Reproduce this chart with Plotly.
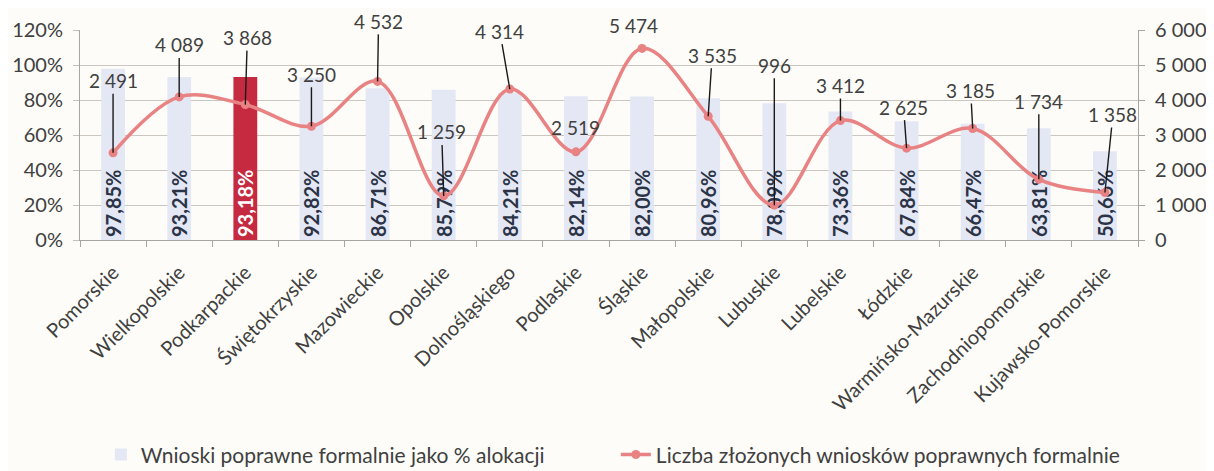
import plotly.graph_objects as go

regions = ["Pomorskie", "Wielkopolskie", "Podkarpackie", "Świętokrzyskie", "Mazowieckie",
           "Opolskie", "Dolnośląskiego", "Podlaskie", "Śląskie", "Małopolskie", "Lubuskie",
           "Lubelskie", "Łódzkie", "Warmińsko-Mazurskie", "Zachodniopomorskie", "Kujawsko-Pomorskie"]
pct_allocation = [0.9785, 0.9321, 0.9318, 0.9282, 0.8671, 0.8579, 0.8421, 0.8214,
                  0.8200, 0.8096, 0.7809, 0.7336, 0.6784, 0.6647, 0.6381, 0.5066]
applications = [2491, 4089, 3868, 3250, 4532, 1259, 4314, 2519,
                5474, 3535, 996, 3412, 2625, 3185, 1734, 1358]
highlight = "Podkarpackie"

# label placement (pixel offsets of label relative to its point)
label_dx = [0, 0, 2, 0, 1, -2, -10, 0, -9, 4, 0, 0, -3, -2, 0, 8]
label_dy = [-72, -52, -67, -52, -60, -64, -58, -24, -23, -61, -140, -35, -41, -38, -78, -78]
leader = [True, True, True, True, True, True, True, False, False, True, True, True, True, True, True, True]

FONT = "Lato"
BAR = "#e4e7f4"
RED = "#c62a40"
LINE = "#e98283"
TXT = "#404040"

bar_colors = [RED if r == highlight else BAR for r in regions]
bar_text_colors = ["#ffffff" if r == highlight else "#2b3346" for r in regions]

fig = go.Figure()
fig.add_trace(go.Bar(
    x=regions, y=pct_allocation, name="Wnioski poprawne formalnie jako % alokacji",
    marker=dict(color=bar_colors, line=dict(width=0)),
    width=0.36,
    texttemplate="%{y:.2%}", textposition="inside", insidetextanchor="start",
    textangle=-90, constraintext="none",
    textfont=dict(family=FONT, size=20, color=bar_text_colors, weight="bold"),
    hoverinfo="skip",
))
fig.add_trace(go.Scatter(
    x=regions, y=applications, yaxis="y2", mode="lines+markers",
    name="Liczba złożonych wniosków poprawnych formalnie",
    line=dict(color=LINE, width=3.5, shape="spline", smoothing=1.0),
    marker=dict(color=LINE, size=9),
    hoverinfo="skip",
))

for i, (r, v) in enumerate(zip(regions, applications)):
    txt = f"{v:,}".replace(",", " ")
    if leader[i]:
        fig.add_annotation(x=r, y=v, xref="x", yref="y2", text=txt, showarrow=True,
                           arrowhead=0, arrowwidth=1.4, arrowcolor="#1a1a1a",
                           ax=label_dx[i], ay=label_dy[i], standoff=0,
                           font=dict(family=FONT, size=19, color=TXT))
    else:
        fig.add_annotation(x=r, y=v, xref="x", yref="y2", text=txt, showarrow=False,
                           xshift=label_dx[i], yshift=-label_dy[i],
                           font=dict(family=FONT, size=19, color=TXT))

fig.update_layout(
    width=1206, height=463,
    margin=dict(l=72, r=76, t=22, b=231, autoexpand=False),
    paper_bgcolor="#fdfcf8", plot_bgcolor="#fdfcf8",
    separators=", ",
    font=dict(family=FONT, size=19, color=TXT),
    showlegend=True,
    legend=dict(orientation="h", xref="container", yref="container",
                x=0.077, y=0.035, xanchor="left", yanchor="middle",
                font=dict(family=FONT, size=21, color=TXT),
                entrywidth=470, entrywidthmode="pixels", bgcolor="rgba(0,0,0,0)"),
    bargap=0.6,
    xaxis=dict(type="category", range=[-0.5, 15.5], tickangle=-45, automargin=False,
               showline=True, linecolor="#a8a4a0", linewidth=1,
               ticks="outside", tickson="boundaries", ticklen=6, tickcolor="#a8a4a0",
               ticklabelstandoff=12,
               showgrid=False, tickfont=dict(family=FONT, size=20, color=TXT)),
    yaxis=dict(range=[0, 1.2], dtick=0.2, tickformat=".0%", automargin=False,
               showline=True, linecolor="#a8a4a0", linewidth=1,
               ticks="outside", ticklen=6, tickcolor="#c8c2bc", ticklabelstandoff=6,
               showgrid=True, gridcolor="#ccc6c0", gridwidth=1, zeroline=False,
               tickfont=dict(family=FONT, size=20, color=TXT)),
    yaxis2=dict(range=[0, 6000], dtick=1000, tickformat=",d", overlaying="y", side="right",
                automargin=False,
                showline=True, linecolor="#a8a4a0", linewidth=1,
                ticks="outside", ticklen=6, tickcolor="#a8a4a0", ticklabelstandoff=6,
                showgrid=False, zeroline=False,
                tickfont=dict(family=FONT, size=20, color=TXT)),
)

fig.write_html("out.html")
